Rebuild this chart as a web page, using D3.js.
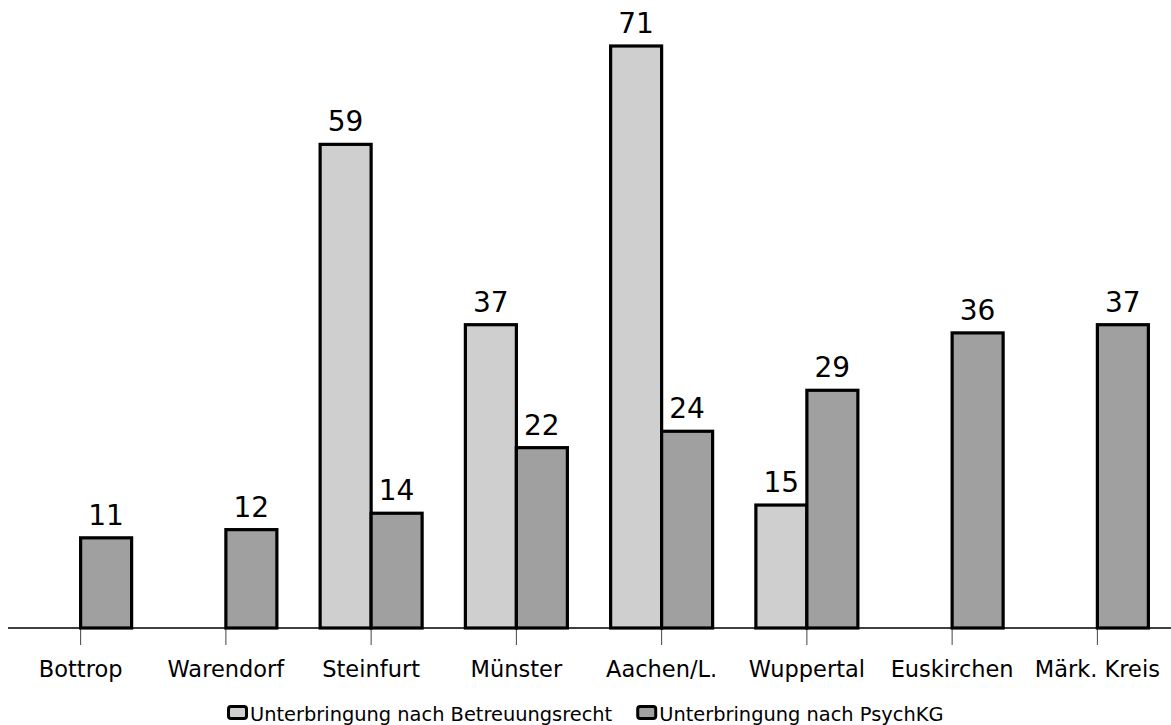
<!DOCTYPE html>
<html><head><meta charset="utf-8">
<script src="https://cdn.jsdelivr.net/npm/d3@7"></script>
<style>body{margin:0;background:#fff}svg{display:block}</style>
</head><body>
<script>
const categories = ["Bottrop","Warendorf","Steinfurt","Münster","Aachen/L.","Wuppertal","Euskirchen","Märk. Kreis"];
const betreuung = [null,null,59,37,71,15,null,null];
const psychkg = [11,12,14,22,24,29,36,37];
const seriesNames = ["Unterbringung nach Betreuungsrecht","Unterbringung nach PsychKG"];
const colors = ["#cfcfcf","#a0a0a0"];

const W=1171,H=725;
const svg=d3.select("body").append("svg").attr("width",W).attr("height",H);
const font="DejaVu Sans";
const x=d3.scaleBand().domain(categories).range([8,1170]);
const y=d3.scaleLinear().domain([0,71]).range([628,46]);
const bw=51;

const bars=[];
categories.forEach((c,i)=>{
  if(betreuung[i]!=null) bars.push({c,v:betreuung[i],s:0});
  if(psychkg[i]!=null) bars.push({c,v:psychkg[i],s:1});
});
const cx=c=>x(c)+x.bandwidth()/2;

const ax=svg.append("g").attr("transform","translate(0,628)")
  .call(d3.axisBottom(x).tickSize(17).tickPadding(16).tickSizeOuter(0));
ax.select(".domain").attr("stroke","#000").attr("stroke-width",1.5).attr("d","M8,0H1171");
ax.selectAll(".tick line").attr("stroke","#444");
ax.selectAll("text").attr("font-family",font).attr("font-size",22.5).attr("fill","#000").attr("dy","0.71em");

svg.selectAll("rect.bar").data(bars).enter().append("rect")
  .attr("x",d=>d.s===0?cx(d.c)-bw:cx(d.c))
  .attr("y",d=>y(d.v)).attr("width",bw).attr("height",d=>y(0)-y(d.v))
  .attr("fill",d=>colors[d.s]).attr("stroke","#000").attr("stroke-width",3.2);

svg.selectAll("text.val").data(bars).enter().append("text")
  .attr("x",d=>(d.s===0?cx(d.c)-bw/2:cx(d.c)+bw/2))
  .attr("y",d=>y(d.v)-13).attr("text-anchor","middle")
  .attr("font-family",font).attr("font-size",28)
  .text(d=>d.v);

const lg=svg.append("g");
let lx=227;
seriesNames.forEach((n,i)=>{
  lg.append("rect").attr("x",lx+1.5).attr("y",706.5).attr("width",18).attr("height",12).attr("rx",2.5)
    .attr("fill",colors[i]).attr("stroke","#000").attr("stroke-width",3);
  const t=lg.append("text").attr("x",lx+23).attr("y",721).attr("font-family",font).attr("font-size",19.4).text(n);
  lx=lx+23+t.node().getComputedTextLength()+24;
});
</script>
</body></html>
